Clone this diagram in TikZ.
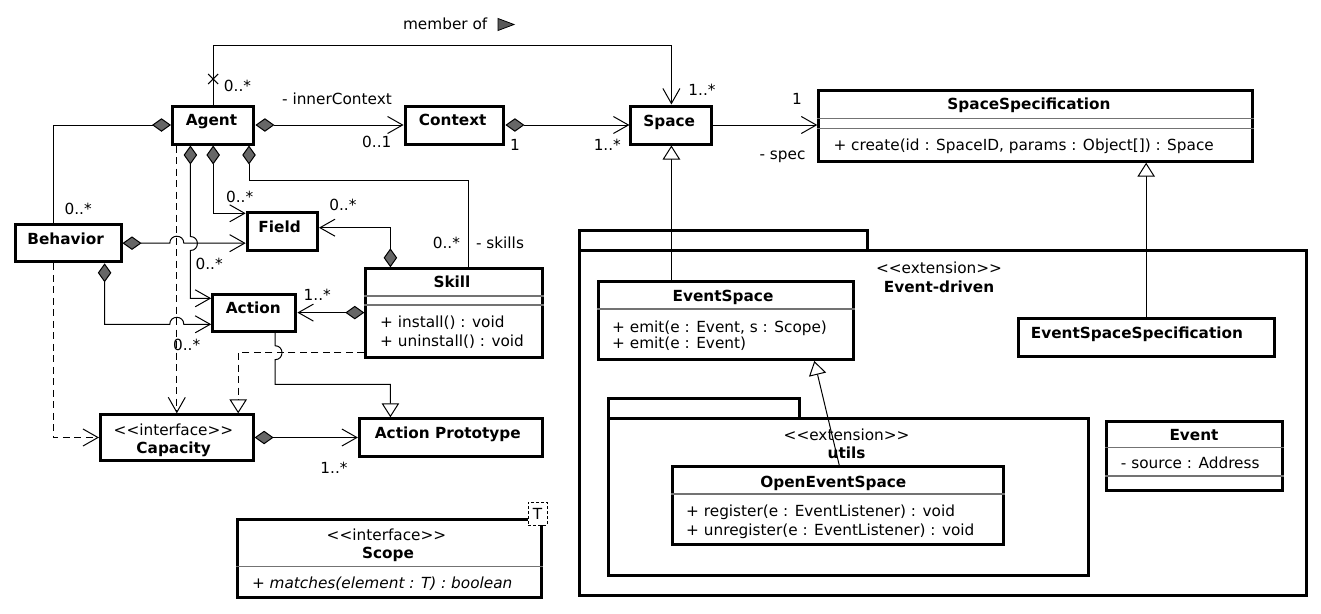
\documentclass[tikz,border=0pt]{standalone}
\usepackage{fontspec}
\setmainfont{DejaVu Sans}
\usetikzlibrary{arrows.meta,shapes.misc,calc}
\newcommand\umlrect[6][]{\node[cls,#1,minimum width={#5-#3-3},minimum height={#6-#4-3}] (#2) at (#3,#4) {};}
\begin{document}
\begin{tikzpicture}[x=1pt,y=-1pt,
  cls/.style={draw, line width=3pt, fill=white, inner sep=0pt, outer sep=1.5pt, anchor=north west},
  pkgframe/.style={draw, line width=3pt, fill=white},
  txt/.style={font=\fontsize{15.3}{18}\selectfont, inner sep=0pt, text height=11.2pt, text depth=0pt},
  bftxt/.style={txt, font=\fontsize{15.3}{18}\selectfont\bfseries},
  ittxt/.style={txt, font=\fontsize{15.3}{18}\selectfont\itshape},
  ln/.style={line width=1pt},
  navi/.style={ln, -{Straight Barb[length=15pt,width=17pt]}},
  comp/.style={ln, {Diamond[length=19pt,width=13.5pt,fill=black!60]}-{Straight Barb[length=15pt,width=17pt]}},
  compn/.style={ln, {Diamond[length=19pt,width=13.5pt,fill=black!60]}-},
  umlgen/.style={ln, -{Triangle[length=14pt,width=17.5pt,fill=white]}},
  umlreal/.style={umlgen, dash pattern=on 7pt off 4.5pt},
  dep/.style={navi, dash pattern=on 7pt off 4.5pt},
  sepline/.style={line width=1.2pt, black!55}]
\fill[white] (0,0) rectangle (1321,613);
\useasboundingbox (0,0) rectangle (1321,613);

% packages
\draw[pkgframe] (579.5,230.8) rectangle (867.8,250.5);
\draw[pkgframe] (579.5,250.5) rectangle (1306,595.8);
\node[txt] (pkgst) at (939,267.7) {<{}<extension>{}>};
\node[bftxt] (pkgname) at (939,286.7) {Event-driven};
\draw[pkgframe] (608.9,398.8) rectangle (799.3,418.2);
\draw[pkgframe] (608.9,418.2) rectangle (1088.1,575.8);
\node[txt] (ust) at (846.6,435) {<{}<extension>{}>};
\node[bftxt] (uname) at (846.6,453.3) {utils};

% simple classes
\umlrect{agent}{171}{104.5}{255.4}{145.5}
\node[bftxt] (agentn) at (211.5,120) {Agent};
\umlrect{context}{403.6}{104.5}{505.4}{145.5}
\node[bftxt] (contextn) at (452.7,120) {Context};
\umlrect{space}{629.4}{104.5}{713.4}{145.5}
\node[bftxt] (spacen) at (669.2,120.7) {Space};
\umlrect{behavior}{13.6}{223}{122.5}{263.3}
\node[bftxt] (behaviorn) at (65.7,239.3) {Behavior};
\umlrect{field}{245.7}{211}{319}{251.7}
\node[bftxt] (fieldn) at (279.6,226.7) {Field};
\umlrect{action}{211.2}{292.5}{297.4}{332.7}
\node[bftxt] (actionn) at (253.3,308.3) {Action};

% Skill
\umlrect{skill}{364.3}{267.3}{544}{359}
\node[bftxt] (skilln) at (452,281.7) {Skill};
\draw[sepline] (364.3,296) -- (544,296);
\draw[sepline] (364.3,305) -- (544,305);
\node[txt, anchor=west] (skillop1) at (380,322.3) {+ install() : void};
\node[txt, anchor=west] (skillop2) at (380,340.7) {+ uninstall() : void};

% Capacity
\umlrect{capacity}{99}{413.3}{254.6}{461.7}
\node[txt] (capst) at (173.5,430) {<{}<interface>{}>};
\node[bftxt] (capn) at (173.7,448.3) {Capacity};

% Action Prototype
\umlrect{aproto}{357.9}{417.3}{543.6}{457.7}
\node[bftxt] (aproton) at (447.8,433.3) {Action Prototype};

% Scope
\umlrect{scope}{236.4}{518.3}{542.9}{599.3}
\node[txt] (scopest) at (386.5,535) {<{}<interface>{}>};
\node[bftxt] (scopen) at (388,553.3) {Scope};
\draw[sepline] (236.4,566.7) -- (542.9,566.7);
\node[ittxt, anchor=west] (scopeop) at (251.8,582.7) {+ matches(element : T) : boolean};
\node[draw, line width=1pt, dash pattern=on 3pt off 2pt, fill=white, anchor=north west,
  minimum width=19pt, minimum height=23pt, inner sep=0pt, font=\fontsize{15.3}{18}\selectfont] (tparam) at (527.5,501.7) {T};

% SpaceSpecification
\umlrect{spec}{817.3}{89.3}{1254}{162.7}
\node[bftxt] (specn) at (1029,104.3) {SpaceSpecification};
\draw[sepline] (817.3,118.3) -- (1254,118.3);
\draw[sepline] (817.3,128.3) -- (1254,128.3);
\node[txt, anchor=west] (specop) at (833.3,145) {+ create(id : SpaceID, params : Object[]) : Space};

% EventSpace
\umlrect{espace}{596.5}{280}{855}{361}
\node[bftxt] (espacen) at (723,296) {EventSpace};
\draw[sepline] (596.5,309) -- (855,309);
\node[txt, anchor=west] (espaceop1) at (612,326.7) {+ emit(e : Event, s : Scope)};
\node[txt, anchor=west] (espaceop2) at (612,343.3) {+ emit(e : Event)};

% EventSpaceSpecification
\umlrect{esspec}{1016.8}{317.3}{1275.5}{357.7}
\node[bftxt, anchor=west] (esspecn) at (1030.7,333.3) {EventSpaceSpecification};

% OpenEventSpace
\umlrect{oes}{670.6}{465}{1004.9}{545.7}
\node[bftxt] (oesn) at (833.3,481.7) {OpenEventSpace};
\draw[sepline] (670.6,494) -- (1004.9,494);
\node[txt, anchor=west] (oesop1) at (686,510.7) {+ register(e : EventListener) : void};
\node[txt, anchor=west] (oesop2) at (686,530) {+ unregister(e : EventListener) : void};

% Event
\umlrect{event}{1105}{420}{1284}{491.5}
\node[bftxt] (eventn) at (1194,435) {Event};
\draw[sepline] (1105,447.7) -- (1284,447.7);
\node[txt, anchor=west] (eventattr) at (1120.7,463.3) {- source : Address};
\draw[sepline] (1105,476) -- (1284,476);

% ---------- connectors ----------
\coordinate (mtop) at (0,45);
\draw[navi] (agent.north) -- (agent.north |- mtop) -| (space.north);
\node[cross out, draw, line width=1pt, minimum size=9pt, inner sep=0pt] (xmark) at ([yshift=25.5pt]agent.north) {};
\node[txt] (lmember) at (445.2,24) {member of};
\filldraw[fill=black!65, draw=black, line width=0.8pt] (498,18.5) -- (514,24.5) -- (498,30.5) -- cycle;
\node[txt] (lagtop) at (237.5,86) {0..*};
\node[txt] (lsptop) at (702,90) {1..*};

\draw[comp] (agent.east) -- (context.west);
\node[txt] (linner) at (337,99.3) {- innerContext};
\node[txt] (lctx) at (376.8,141.7) {0..1};

\draw[comp] (context.east) -- (space.west);
\node[txt] (lctx1) at (515,145) {1};
\node[txt] (lspl) at (607.3,145) {1..*};

\draw[navi] (space.east) -- (space.east -| spec.west);
\node[txt] (lspec1) at (797,99) {1};
\node[txt] (lspec) at (782.5,154.3) {- spec};

\draw[umlgen] (space.south |- espace.north) -- (space.south);
\draw[umlgen] (esspec.north) -- (esspec.north |- spec.south);

\coordinate (bx) at (53,0);
\draw[compn] (agent.west) -| (bx |- behavior.north);
\node[txt] (lbeh) at (78.2,209.3) {0..*};

\coordinate (a1) at (190.4,298.3);
\draw[comp] (a1 |- agent.south) -- (190.4,236.5) .. controls (199.7,236.5) and (199.7,250.5) .. (190.4,250.5) -- (a1) -- (a1 -| action.west);
\node[txt] (lact1) at (209.2,264.3) {0..*};

\coordinate (a2) at (0,213.3);
\draw[comp] (agent.south) |- (a2 -| field.west);
\node[txt] (lfld1) at (239.6,196.7) {0..*};

\coordinate (a3) at (249,180);
\coordinate (a4) at (468.6,180);
\draw[compn] (a3 |- agent.south) -- (a3) -- (a4) -- (a4 |- skill.north);
\node[txt] (lsk1) at (446.4,243.3) {0..*};
\node[txt] (lsk2) at (500,243.3) {- skills};

\draw[dep] (capacity.north |- agent.south) -- (capacity.north);
\node[txt] (lcap1) at (186.6,345) {0..*};

\draw[comp] (behavior.east) -- (169.8,243.2) .. controls (169.8,233.9) and (183.8,233.9) .. (183.8,243.2) -- (behavior.east -| field.west);

\coordinate (b2) at (104.6,324.3);
\draw[comp] (b2 |- behavior.south) -- (b2) -- (169.8,324.3) .. controls (169.8,315) and (183.8,315) .. (183.8,324.3) -- (b2 -| action.west);

\coordinate (s1) at (390.4,227.7);
\draw[comp] (s1 |- skill.north) -- (s1) -- (s1 -| field.east);
\node[txt] (lfld2) at (342.9,205) {0..*};

\draw[comp] (skill.west |- action.east) -- (action.east);
\node[txt] (lact2) at (317.3,295) {1..*};

\coordinate (p1) at (275,384.3);
\coordinate (p2) at (390.4,384.3);
\draw[umlgen] (p1 |- action.south) -- (275,345.7) .. controls (284.3,345.7) and (284.3,359.7) .. (275,359.7) -- (p1) -- (p2) -- (p2 |- aproto.north);

\coordinate (r1) at (238.2,352.7);
\draw[umlreal] (r1 -| skill.west) -- (r1) -- (r1 |- capacity.north);

\draw[dep] (bx |- behavior.south) |- (capacity.west);

\draw[comp] (capacity.east) -- (capacity.east -| aproto.west);
\node[txt] (lap) at (334,468.3) {1..*};

\coordinate (g1) at (839.2,0);
\coordinate (g2) at (814.3,0);
\draw[umlgen] (g1 |- oes.north) -- (g2 |- espace.south);
\end{tikzpicture}
\end{document}
